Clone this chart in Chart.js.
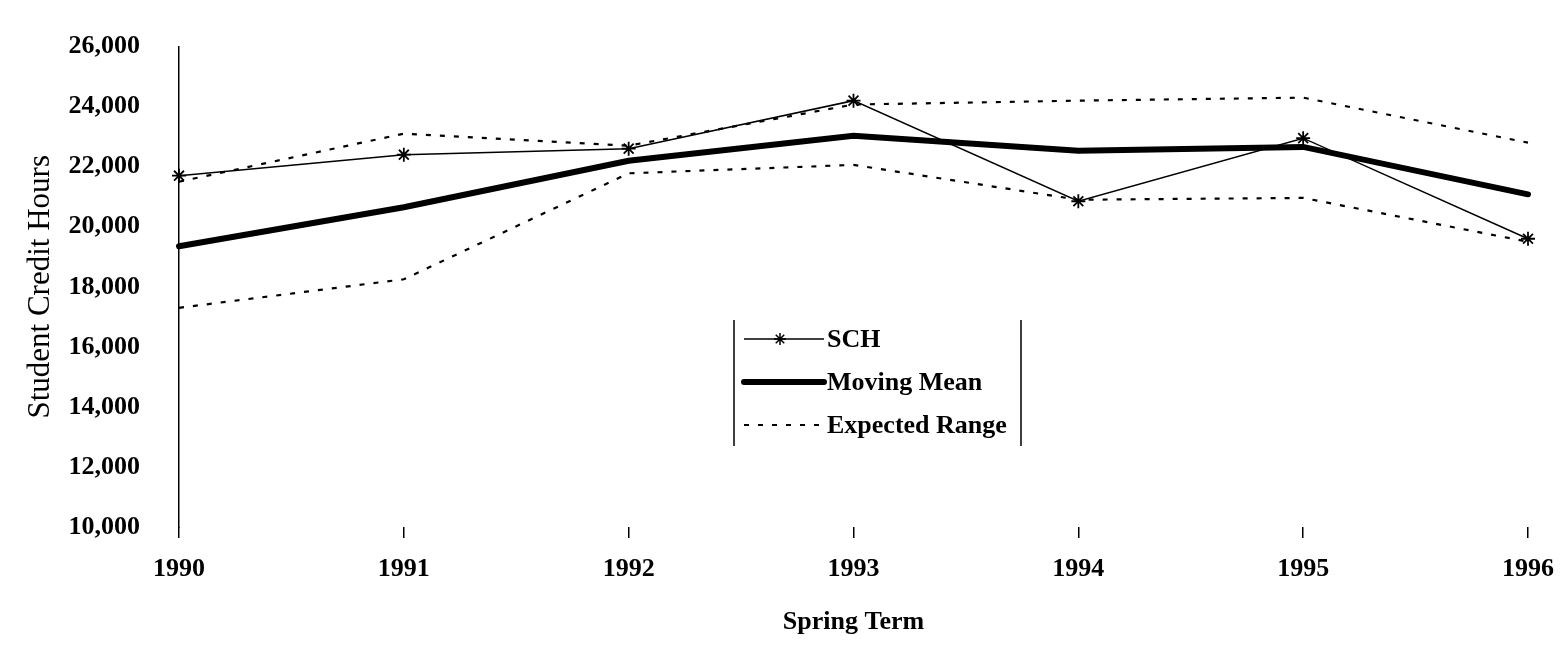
<!DOCTYPE html>
<html>
<head>
<meta charset="utf-8">
<script src="https://cdn.jsdelivr.net/npm/chart.js@4.4.1/dist/chart.umd.min.js"></script>
<style>
  html, body { margin: 0; padding: 0; background: #fff; }
  #wrap { width: 1565px; height: 661px; position: relative; }
</style>
</head>
<body>
<div id="wrap"><canvas id="chart"></canvas></div>
<script>
'use strict';

// spring term enrollment
const years = ['1990', '1991', '1992', '1993', '1994', '1995', '1996'];
const sch = [21700, 22400, 22600, 24200, 20850, 22950, 19600];
const movingMean = [19350, 20650, 22200, 23030, 22530, 22660, 21080];
const upperRange = [21500, 23100, 22700, 24070, 24200, 24300, 22800];
const lowerRange = [17300, 18250, 21780, 22060, 20900, 20960, 19500];

const FONT = "'Liberation Serif', 'Times New Roman', serif";

// legend with only left/right rules, like the original
const boxLegend = {
  id: 'boxLegend',
  afterDraw: function (chart) {
    var ctx = chart.ctx;
    ctx.save();
    ctx.strokeStyle = '#000';
    ctx.lineWidth = 1.5;
    ctx.beginPath();
    ctx.moveTo(734, 320); ctx.lineTo(734, 446);
    ctx.moveTo(1021, 320); ctx.lineTo(1021, 446);
    ctx.stroke();

    var x0 = 744, x1 = 824;
    var rows = [339, 382, 425];

    // SCH
    ctx.lineWidth = 1.5;
    ctx.beginPath(); ctx.moveTo(x0, rows[0]); ctx.lineTo(x1, rows[0]); ctx.stroke();
    Chart.helpers.drawPoint(ctx, {pointStyle: 'star', radius: 6, rotation: 0, borderWidth: 1.5}, 780, rows[0]);

    // moving mean
    ctx.lineWidth = 6;
    ctx.lineCap = 'round';
    ctx.beginPath(); ctx.moveTo(x0, rows[1]); ctx.lineTo(x1, rows[1]); ctx.stroke();

    // expected range
    ctx.lineCap = 'butt';
    ctx.lineWidth = 2;
    ctx.setLineDash([5, 9]);
    ctx.beginPath(); ctx.moveTo(x0, rows[2]); ctx.lineTo(x1, rows[2]); ctx.stroke();
    ctx.setLineDash([]);

    ctx.fillStyle = '#000';
    ctx.font = 'bold 26px ' + FONT;
    ctx.textBaseline = 'middle';
    ctx.fillText('SCH', 827, rows[0] + 1);
    ctx.fillText('Moving Mean', 827, rows[1] + 1);
    ctx.fillText('Expected Range', 827, rows[2] + 1);
    ctx.restore();
  }
};

var ctx = document.getElementById('chart');
new Chart(ctx, {
  type: 'line',
  data: {
    labels: years,
    datasets: [
      {
        label: 'SCH',
        data: sch,
        borderColor: '#000',
        borderWidth: 1.5,
        pointStyle: 'star',
        pointRadius: 7,
        pointBorderWidth: 1.8,
        pointBorderColor: '#000',
        tension: 0,
        order: 1
      },
      {
        label: 'Moving Mean',
        data: movingMean,
        borderColor: '#000',
        borderWidth: 6,
        borderCapStyle: 'round',
        pointRadius: 0,
        tension: 0,
        order: 2
      },
      {
        label: 'Expected Range',
        data: upperRange,
        borderColor: '#000',
        borderWidth: 2.2,
        borderDash: [5, 9],
        pointRadius: 0,
        tension: 0,
        order: 3
      },
      {
        label: 'Expected Range (low)',
        data: lowerRange,
        borderColor: '#000',
        borderWidth: 2.2,
        borderDash: [5, 9],
        pointRadius: 0,
        tension: 0,
        order: 3
      }
    ]
  },
  options: {
    responsive: true,
    maintainAspectRatio: false,
    animation: false,
    layout: { padding: { top: 42, right: 37, left: 0, bottom: 0 } },
    plugins: {
      legend: { display: false },
      tooltip: { enabled: false }
    },
    scales: {
      x: {
        offset: false,
        grid: {
          display: true,
          drawOnChartArea: false,
          drawTicks: true,
          tickLength: 11,
          color: '#000',
          lineWidth: 1.5
        },
        border: { display: false },
        ticks: {
          color: '#000',
          padding: 16,
          maxRotation: 0,
          font: { family: FONT, size: 26, weight: 'bold' }
        },
        title: {
          display: true,
          text: 'Spring Term',
          color: '#000',
          padding: { top: 0, bottom: 23 },
          font: { family: FONT, size: 26, weight: 'bold' }
        },
        afterFit: function (scale) {
          scale.height = 134;
          scale.paddingLeft = 0;
          scale.paddingRight = 0;
        }
      },
      y: {
        min: 10000,
        max: 26000,
        grid: { display: false },
        border: { display: true, color: '#000', width: 1.5 },
        ticks: {
          stepSize: 2000,
          color: '#000',
          padding: 31,
          font: { family: FONT, size: 26, weight: 'bold' },
          callback: function (v) { return v.toLocaleString('en-US'); }
        },
        title: {
          display: true,
          text: 'Student Credit Hours',
          color: '#000',
          padding: { top: 22, bottom: 0 },
          font: { family: FONT, size: 31, weight: 'normal' }
        },
        afterFit: function (scale) { scale.width = 179; }
      }
    }
  },
  plugins: [boxLegend]
});
</script>
</body>
</html>
